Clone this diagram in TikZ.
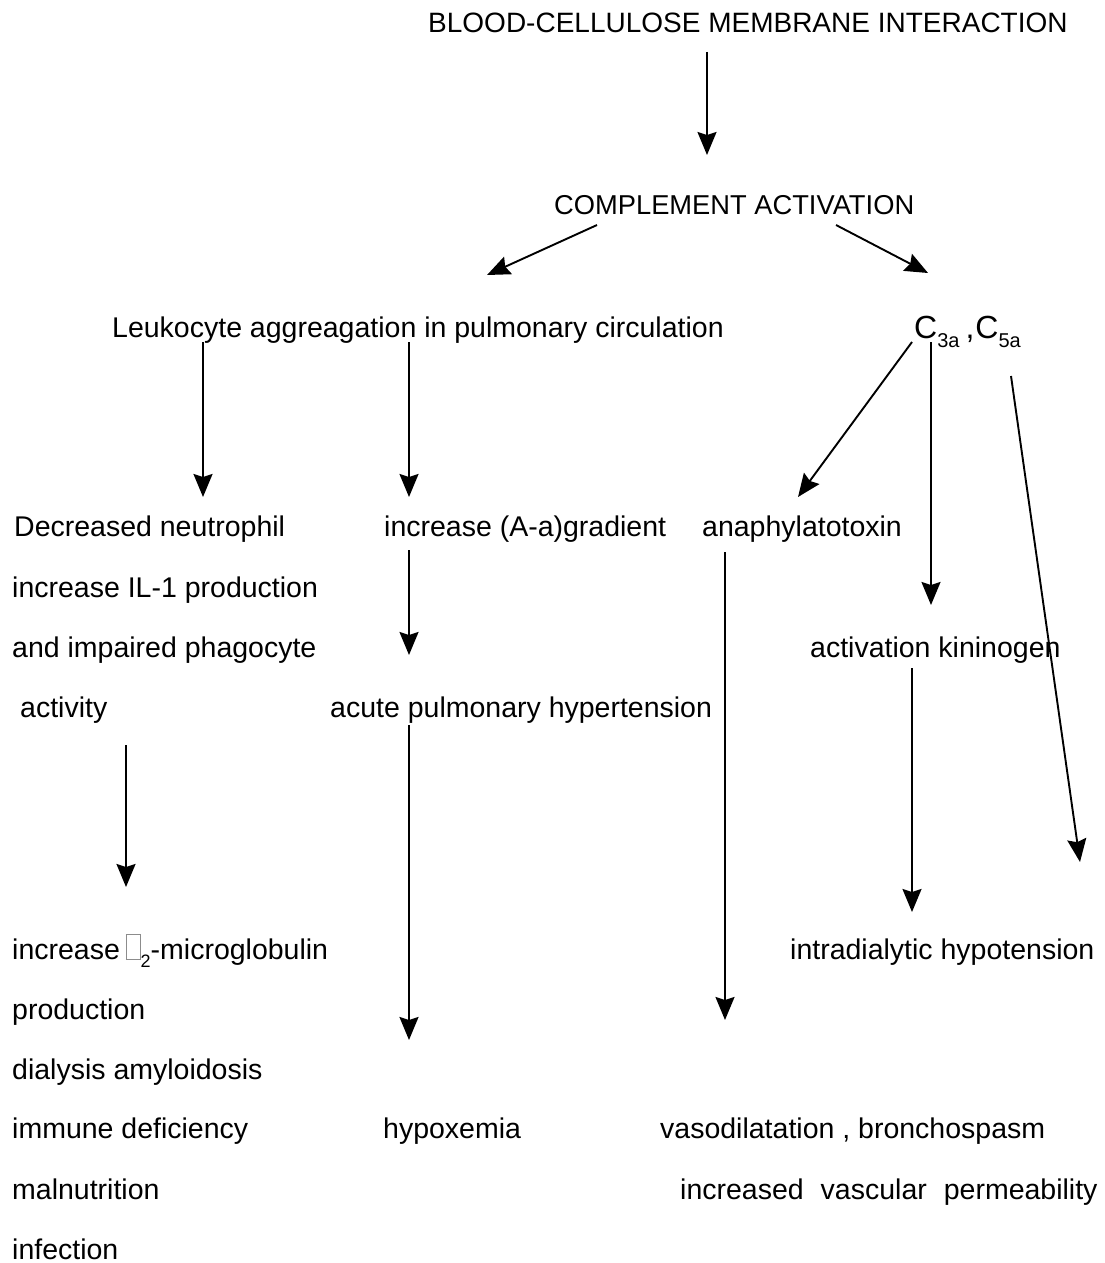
\documentclass[tikz,border=0pt]{standalone}
\usepackage{fontspec}
\setmainfont{Liberation Sans}
\usetikzlibrary{arrows.meta}
\newcommand{\lostglyph}{{\color{black!45}\setlength{\fboxsep}{0pt}\setlength{\fboxrule}{0.9pt}\fbox{\rule{0pt}{24pt}\hspace{13pt}}}}
\newcommand{\lowsub}[1]{\raisebox{-9pt}{\fontsize{20}{20}\selectfont #1}}

\begin{document}
\begin{tikzpicture}[x=1pt, y=-1pt,
  txt/.style={font=\fontsize{28.5}{34}\selectfont, inner sep=0pt, anchor=base west},
  arr/.style={-{Stealth[length=23pt, width=19pt, inset=3pt]}, line width=1.9pt}
]
\useasboundingbox (0,0) rectangle (1104,1263);

\node[txt, font=\fontsize{28}{34}\selectfont] (blood) at (428,33) {BLOOD-CELLULOSE MEMBRANE INTERACTION};
\node[txt, font=\fontsize{27.3}{34}\selectfont] (compl) at (554,214) {COMPLEMENT ACTIVATION};
\node[txt] (leuko) at (112,337) {Leukocyte aggreagation in pulmonary circulation};
\node[txt, font=\fontsize{32}{36}\selectfont] (c35) at (914,338)
  {C\lowsub{3a}\hspace{6pt},\hspace{1pt}C\lowsub{5a}};

\node[txt] (neut) at (14,536) {Decreased neutrophil};
\node[txt] (il1) at (12,597) {increase IL-1 production};
\node[txt] (phago) at (12,657) {and impaired phagocyte};
\node[txt] (activ) at (12,717) {\hspace{8pt}activity};
\node[txt] (grad) at (384,536) {increase (A-a)gradient};
\node[txt] (acute) at (330,717) {acute pulmonary hypertension};
\node[txt] (anaph) at (702,536) {anaphylatotoxin};
\node[txt] (kinin) at (810,657) {activation kininogen};

\node[txt] (beta) at (12,959) {increase\hspace{6pt}\lostglyph\raisebox{-8pt}{\fontsize{18}{18}\selectfont 2}-microglobulin};
\node[txt] (prod) at (12,1019) {production};
\node[txt] (amyl) at (12,1079) {dialysis amyloidosis};
\node[txt] (immune) at (12,1138) {immune deficiency};
\node[txt] (malnu) at (12,1199) {malnutrition};
\node[txt] (infec) at (12,1259) {infection};
\node[txt] (hypox) at (383,1138) {hypoxemia};
\node[txt] (intra) at (790,959) {intradialytic hypotension};
\node[txt] (vaso) at (660,1138) {vasodilatation , bronchospasm};
\node[txt] (perm) at (680,1199) {increased\hspace{17pt}vascular\hspace{17pt}permeability};

\draw[arr] ([shift={(279,19)}]blood.base west) -- ([shift={(153,-59)}]compl.base west);
\draw[arr] ([shift={(43,11)}]compl.base west) -- ([shift={(375,-62)}]leuko.base west);
\draw[arr] ([shift={(282,11)}]compl.base west) -- ([shift={(14,-65)}]c35.base west);

\draw[arr] ([shift={(91,5)}]leuko.base west) -- ([shift={(189,-39)}]neut.base west);
\draw[arr] ([shift={(297,5)}]leuko.base west) -- ([shift={(25,-39)}]grad.base west);
\draw[arr] ([shift={(-2,4)}]c35.base west) -- ([shift={(96,-39)}]anaph.base west);
\draw[arr] ([shift={(17,4)}]c35.base west) -- ([shift={(121,-52)}]kinin.base west);
\draw[arr] ([shift={(97,38)}]c35.base west) -- ([shift={(290,-97)}]intra.base west);

\draw[arr] ([shift={(25,14)}]grad.base west) -- ([shift={(79,-62)}]acute.base west);
\draw[arr] ([shift={(23,16)}]anaph.base west) -- ([shift={(65,-118)}]vaso.base west);
\draw[arr] ([shift={(102,11)}]kinin.base west) -- ([shift={(122,-47)}]intra.base west);
\draw[arr] ([shift={(114,28)}]activ.base west) -- ([shift={(114,-72)}]beta.base west);
\draw[arr] ([shift={(79,8)}]acute.base west) -- ([shift={(26,-98)}]hypox.base west);
\end{tikzpicture}
\end{document}
